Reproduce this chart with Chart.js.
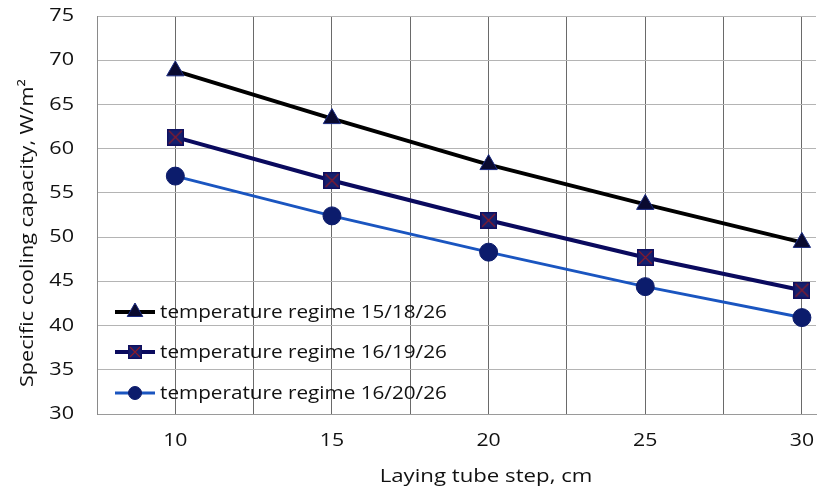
<!DOCTYPE html>
<html>
<head>
<meta charset="utf-8">
<script src="https://cdn.jsdelivr.net/npm/chart.js"></script>
<style>
  html, body { margin: 0; padding: 0; background: #fff; }
  #wrap { width: 819px; height: 486px; }
</style>
</head>
<body>
<div id="wrap"><canvas id="chart" width="819" height="486"></canvas></div>
<script>
const steps = [10, 15, 20, 25, 30];
const regime1 = [68.8, 63.4, 58.2, 53.7, 49.4];
const regime2 = [61.3, 56.4, 51.9, 47.7, 44.0];
const regime3 = [56.9, 52.4, 48.3, 44.4, 40.9];
const seriesNames = ['temperature regime 15/18/26', 'temperature regime 16/19/26', 'temperature regime 16/20/26'];
const xLabels = [10, 15, 20, 25, 30];
const xGrid = [7.5, 10, 12.5, 15, 17.5, 20, 22.5, 25, 27.5, 30];
const yLabels = [30, 35, 40, 45, 50, 55, 60, 65, 70, 75];

const FONT = '"Open Sans", "Noto Sans", sans-serif';
const TXT = '#111';

// the original lettering is wide, so text is drawn a bit stretched
function wideText(ctx, text, x, y, size, align, sx, rot) {
  ctx.save();
  ctx.translate(x, y);
  if (rot) ctx.rotate(rot);
  ctx.scale(sx, 1);
  ctx.font = size + 'px ' + FONT;
  ctx.fillStyle = TXT;
  ctx.textAlign = align;
  ctx.textBaseline = 'middle';
  ctx.fillText(text, 0, 0);
  ctx.restore();
}

// square marker with a red cross inside
function squareMarker(size) {
  const c = document.createElement('canvas');
  c.width = size; c.height = size;
  const g = c.getContext('2d');
  g.fillStyle = '#14206e';
  g.fillRect(0, 0, size, size);
  g.strokeStyle = '#101060';
  g.lineWidth = 1.5;
  g.strokeRect(0.75, 0.75, size - 1.5, size - 1.5);
  g.strokeStyle = '#8a1a2a';
  g.lineWidth = 1.2;
  g.beginPath();
  g.moveTo(2, 2); g.lineTo(size - 2, size - 2);
  g.moveTo(size - 2, 2); g.lineTo(2, size - 2);
  g.stroke();
  return c;
}
const sqBig = squareMarker(17);
const sqSmall = squareMarker(14);

const pts = ys => steps.map((x, i) => ({ x: x, y: ys[i] }));

// axis labels and titles
const axisText = {
  id: 'axisText',
  afterDraw(chart) {
    const ctx = chart.ctx;
    const xs = chart.scales.x, ys = chart.scales.y;
    yLabels.forEach(v => wideText(ctx, String(v), 74, ys.getPixelForValue(v), 18, 'right', 1.2));
    xLabels.forEach(v => wideText(ctx, String(v), xs.getPixelForValue(v), 441, 18, 'center', 1.18));
    wideText(ctx, 'Laying tube step, cm', 486, 477, 18.5, 'center', 1.2);
    wideText(ctx, 'Specific cooling capacity, W/m²', 28, 233, 18, 'center', 1.2, -Math.PI / 2);
  }
};

// legend inside the plot area, line + marker like the original
const insideLegend = {
  id: 'insideLegend',
  afterDatasetsDraw(chart) {
    const ctx = chart.ctx;
    const a = chart.chartArea;
    const rows = [312, 352, 393];
    const small = [{ style: 'triangle', r: 9 }, { style: sqSmall, r: 7 }, { style: 'circle', r: 6.5 }];
    chart.data.datasets.forEach((ds, i) => {
      const y = rows[i];
      const x0 = a.left + 18;
      ctx.save();
      ctx.strokeStyle = ds.borderColor;
      ctx.lineWidth = ds.borderWidth;
      ctx.beginPath();
      ctx.moveTo(x0, y); ctx.lineTo(x0 + 40, y);
      ctx.stroke();
      ctx.fillStyle = ds.pointBackgroundColor;
      ctx.strokeStyle = ds.pointBorderColor;
      ctx.lineWidth = 1;
      Chart.helpers.drawPoint(ctx, { pointStyle: small[i].style, radius: small[i].r, rotation: 0, borderWidth: 1 }, x0 + 20, y);
      ctx.restore();
      wideText(ctx, ds.label, x0 + 45, y + 1, 18, 'left', 1.15);
    });
  }
};

new Chart(document.getElementById('chart'), {
  type: 'scatter',
  data: {
    datasets: [
      {
        label: seriesNames[0], data: pts(regime1), showLine: true,
        borderColor: '#000000', borderWidth: 4,
        pointStyle: 'triangle', pointRadius: 10, pointHoverRadius: 10,
        pointBackgroundColor: '#0a0a30', pointBorderColor: '#1a2a80', pointBorderWidth: 1
      },
      {
        label: seriesNames[1], data: pts(regime2), showLine: true,
        borderColor: '#0a0a5e', borderWidth: 4,
        pointStyle: sqBig, pointRadius: 9, pointHoverRadius: 9,
        pointBackgroundColor: '#14206e', pointBorderColor: '#101060', pointBorderWidth: 1
      },
      {
        label: seriesNames[2], data: pts(regime3), showLine: true,
        borderColor: '#1a55c0', borderWidth: 3,
        pointStyle: 'circle', pointRadius: 9, pointHoverRadius: 9,
        pointBackgroundColor: '#0c1c6c', pointBorderColor: '#0c1c6c', pointBorderWidth: 1
      }
    ]
  },
  options: {
    responsive: false,
    animation: false,
    layout: { autoPadding: false, padding: { left: 0, right: 3, top: 16, bottom: 0 } },
    plugins: { legend: { display: false }, tooltip: { enabled: false } },
    scales: {
      x: {
        type: 'linear', min: 7.5, max: 30.45,
        afterBuildTicks(s) { s.ticks = xGrid.map(v => ({ value: v })); },
        afterFit(s) { s.height = 72; },
        grid: { color: '#6a6a6a', lineWidth: 1, drawTicks: false },
        border: { color: '#9a9a9a', width: 1 },
        ticks: { display: false }
      },
      y: {
        min: 30, max: 75,
        afterBuildTicks(s) { s.ticks = yLabels.map(v => ({ value: v })); },
        afterFit(s) { s.width = 97; },
        grid: { color: '#b4b4b4', lineWidth: 1, drawTicks: false },
        border: { color: '#8a8a8a', width: 1 },
        ticks: { display: false }
      }
    }
  },
  plugins: [axisText, insideLegend]
});
</script>
</body>
</html>
